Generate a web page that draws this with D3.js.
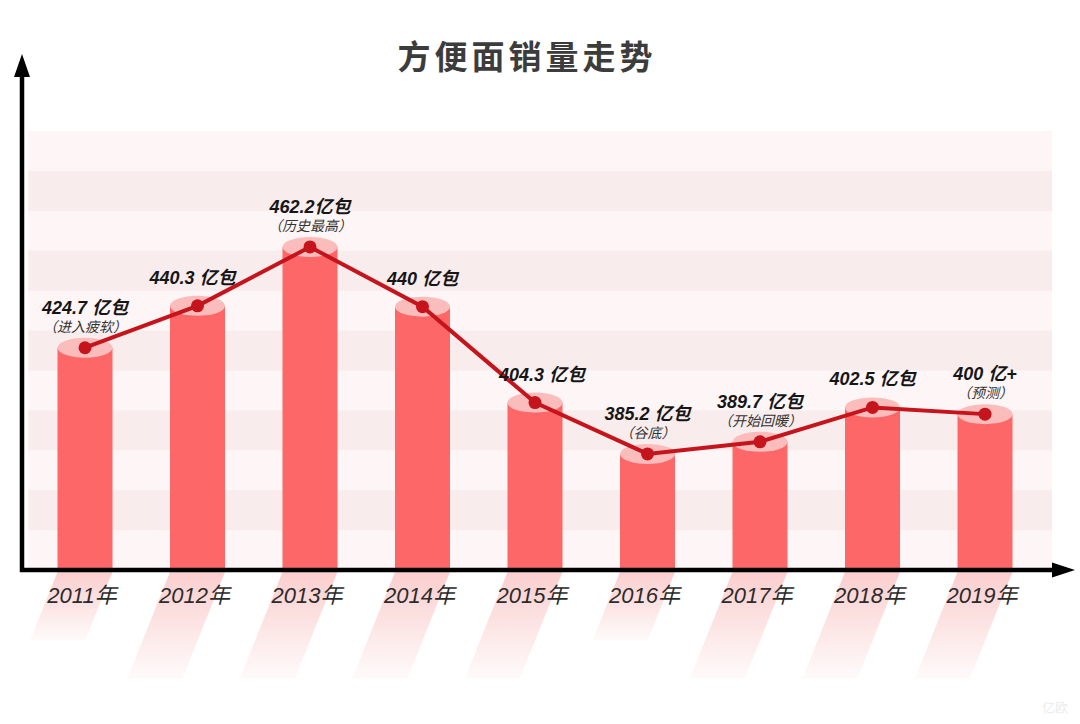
<!DOCTYPE html>
<html>
<head>
<meta charset="utf-8">
<script src="https://cdn.jsdelivr.net/npm/d3@7"></script>
<style>
  body { margin: 0; background: #fff; }
  text { font-family: "Liberation Sans", "Noto Sans CJK SC", sans-serif; }
</style>
</head>
<body>
<svg id="chart"></svg>
<script>
// data
var years = ["2011年", "2012年", "2013年", "2014年", "2015年", "2016年", "2017年", "2018年", "2019年"];
var sales = [424.7, 440.3, 462.2, 440, 404.3, 385.2, 389.7, 402.5, 400];
var valueLabels = ["424.7 亿包", "440.3 亿包", "462.2亿包", "440 亿包", "404.3 亿包", "385.2 亿包", "389.7 亿包", "402.5 亿包", "400 亿+"];
var notes = ["（进入疲软）", "", "（历史最高）", "", "", "（谷底）", "（开始回暖）", "", "（预测）"];

var width = 1080,
    height = 724,
    baseY = 570,
    barW = 55;

var svg = d3.select("#chart")
    .attr("width", width)
    .attr("height", height);

var x = d3.scalePoint()
    .domain(years)
    .range([85, 985]);

// the original is not drawn to scale, this is a best linear fit
var y = d3.scaleLinear()
    .domain([342, 470])
    .range([baseY, 226]);

var defs = svg.append("defs");
var grad = defs.append("linearGradient")
    .attr("id", "refl")
    .attr("x1", 0).attr("y1", 0).attr("x2", 0).attr("y2", 1);
grad.append("stop").attr("offset", "0%").attr("stop-color", "#f26b6b").attr("stop-opacity", 0.33);
grad.append("stop").attr("offset", "100%").attr("stop-color", "#f26b6b").attr("stop-opacity", 0.03);

// title
svg.append("text")
    .attr("x", 527)
    .attr("y", 69)
    .attr("text-anchor", "middle")
    .attr("font-size", 33)
    .attr("font-weight", "bold")
    .attr("letter-spacing", 4)
    .attr("fill", "#3c3c3c")
    .style("font-family", "'Noto Sans CJK SC', sans-serif")
    .text("方便面销量走势");

// striped background
var stripeH = (baseY - 131) / 11;
svg.append("g").selectAll("rect")
    .data(d3.range(11))
    .enter().append("rect")
      .attr("x", 28)
      .attr("y", function(i) { return 131 + i * stripeH; })
      .attr("width", 1024)
      .attr("height", stripeH + 0.5)
      .attr("fill", function(i) { return i % 2 ? "#f8eced" : "#fdf5f6"; });

// reflections under the axis
var reflLen = [68, 107, 107, 107, 107, 68, 107, 107, 107];
svg.append("g").selectAll("path")
    .data(years)
    .enter().append("path")
      .attr("fill", "url(#refl)")
      .attr("d", function(d, i) {
        var l = x(d) - barW / 2, t = baseY + 2, L = reflLen[i], s = L * 0.4;
        return "M" + l + "," + t + "H" + (l + barW) +
               "L" + (l + barW - s) + "," + (t + L) + "H" + (l - s) + "Z";
      });

// cylinders
var bars = svg.append("g").selectAll("g")
    .data(sales)
    .enter().append("g");

bars.append("rect")
    .attr("x", function(d, i) { return x(years[i]) - barW / 2; })
    .attr("y", function(d) { return y(d); })
    .attr("width", barW)
    .attr("height", function(d) { return baseY - y(d); })
    .attr("fill", "#fe6767");

bars.append("ellipse")
    .attr("cx", function(d, i) { return x(years[i]); })
    .attr("cy", function(d) { return y(d); })
    .attr("rx", barW / 2)
    .attr("ry", 10)
    .attr("fill", "#fbbcbc");

// axes with arrows
svg.append("line")
    .attr("x1", 22).attr("x2", 22)
    .attr("y1", 74).attr("y2", baseY + 2)
    .attr("stroke", "#000").attr("stroke-width", 4.5);
svg.append("path")
    .attr("d", "M14,77L30,77L22,54Z")
    .attr("fill", "#000");

svg.append("line")
    .attr("x1", 20).attr("x2", 1054)
    .attr("y1", baseY).attr("y2", baseY)
    .attr("stroke", "#000").attr("stroke-width", 4.5);
svg.append("path")
    .attr("d", "M1052,562.5L1052,577.5L1075,570Z")
    .attr("fill", "#000");

// year labels
svg.append("g").selectAll("text")
    .data(years)
    .enter().append("text")
      .attr("x", function(d) { return x(d) - 3; })
      .attr("y", 603)
      .attr("text-anchor", "middle")
      .attr("font-size", 22)
      .attr("font-style", "italic")
      .attr("fill", "#2b2b2b")
      .text(function(d) { return d; });

// trend line
var line = d3.line()
    .x(function(d, i) { return x(years[i]); })
    .y(function(d) { return y(d); });

svg.append("path")
    .datum(sales)
    .attr("d", line)
    .attr("fill", "none")
    .attr("stroke", "#c5141b")
    .attr("stroke-width", 4);

svg.append("g").selectAll("circle")
    .data(sales)
    .enter().append("circle")
      .attr("cx", function(d, i) { return x(years[i]); })
      .attr("cy", function(d) { return y(d); })
      .attr("r", 6.5)
      .attr("fill", "#c5141b");

// value labels + notes
var labels = svg.append("g").selectAll("g")
    .data(sales)
    .enter().append("g")
      .attr("transform", function(d, i) {
        var dx = i == 4 ? 7 : (i == 1 ? -5 : 0);
        return "translate(" + (x(years[i]) + dx) + "," + y(d) + ")";
      });

labels.append("text")
    .attr("y", function(d, i) { return notes[i] ? -34 : -22; })
    .attr("text-anchor", "middle")
    .attr("font-size", 18)
    .attr("font-weight", "bold")
    .attr("font-style", "italic")
    .attr("fill", "#161616")
    .text(function(d, i) { return valueLabels[i]; });

labels.append("text")
    .attr("y", -16)
    .attr("text-anchor", "middle")
    .attr("font-size", 14)
    .attr("font-style", "italic")
    .attr("fill", "#333")
    .text(function(d, i) { return notes[i]; });

// faint watermark
svg.append("text")
    .attr("x", 1055)
    .attr("y", 712)
    .attr("text-anchor", "middle")
    .attr("font-size", 13)
    .attr("fill", "#ececec")
    .text("亿欧");
</script>
</body>
</html>
